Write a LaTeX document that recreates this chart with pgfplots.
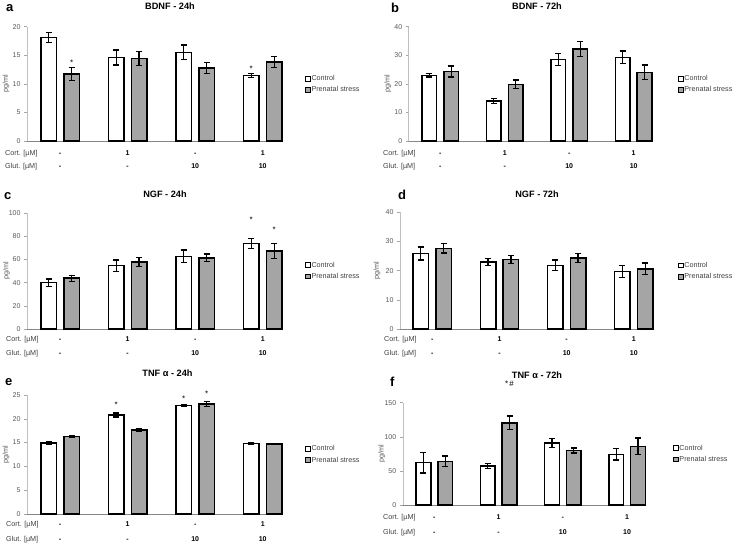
\documentclass[border=0pt]{standalone}
\usepackage{pgfplots}
\pgfplotsset{compat=1.18}
\usepackage{pgfplotstable}
\usepackage{fontspec}
\setmainfont{Liberation Sans}

\definecolor{psgray}{RGB}{165,165,165}
\definecolor{axgray}{RGB}{134,134,134}
\definecolor{tickgray}{RGB}{89,89,89}
\definecolor{labgray}{RGB}{64,64,64}
\newcommand{\fs}[1]{\fontsize{#1}{#1}\selectfont}

\pgfplotstableread{
x c ce p pe
0 18.1 0.85 11.7 1.1
1 14.6 1.3 14.45 1.2
2 15.5 1.3 12.8 0.95
3 11.5 0.35 13.8 1.0
}\tabA
\pgfplotstableread{
x c ce p pe
0 23.0 0.6 24.3 1.9
1 14.0 0.9 19.8 1.5
2 28.5 2.1 32.2 2.7
3 29.3 2.2 24.0 2.6
}\tabB
\pgfplotstableread{
x c ce p pe
0 40.0 3.2 43.9 2.6
1 54.7 5.0 57.8 3.9
2 62.8 5.5 61.5 3.3
3 74.0 4.3 67.5 6.5
}\tabC
\pgfplotstableread{
x c ce p pe
0 25.9 2.2 27.6 1.6
1 22.9 1.25 23.8 1.3
2 21.8 1.8 24.3 1.6
3 19.7 2.0 20.6 2.0
}\tabD
\pgfplotstableread{
x c ce p pe
0 14.9 0.2 16.25 0.2
1 20.8 0.4 17.6 0.3
2 22.8 0.25 23.1 0.55
3 14.8 0.1 14.7 0.05
}\tabE
\pgfplotstableread{
x c ce p pe
0 62 15 64 7.8
1 57 3.7 120.5 9.8
2 91 6.4 80 3.7
3 74.3 8.3 86 12.2
}\tabF

\pgfplotsset{
  panel/.style={
    scale only axis, anchor=south west, clip=false,
    xmin=-0.49, xmax=3.3, ymin=0,
    axis lines=left, axis line style={-},
    x axis line style={axgray, line width=0.9pt},
    y axis line style={black!25, line width=0.5pt},
    xtick=\empty,
    ytick style={black!35, line width=0.5pt},
    tick align=outside, major tick length=3pt,
    /pgf/number format/assume math mode=true,
    yticklabel style={font=\fs{7}, text=tickgray},
    ylabel={pg/ml},
    ylabel style={font=\fs{7.2}, text=tickgray},
    legend style={draw=none, fill=none, inner sep=0pt, row sep=3.3pt,
      font=\fs{7.2}, text=labgray, anchor=west,
      nodes={inner sep=0.6pt, text height=5.2pt, text depth=1.5pt}},
    legend cell align=left,
  },
  barstyle/.style={ybar, bar width=0.23, bar shift=0pt, draw=black, line width=1.5pt,
    error bars/.cd, y dir=both, y explicit,
    error bar style={line width=1.3pt,black},
    error mark options={rotate=90,mark size=3pt,line width=1.3pt,black}},
}
\tikzset{
  val/.style={font=\fs{7}\bfseries, anchor=base, inner sep=0pt},
  lab/.style={font=\fs{7.2}, text=labgray, anchor=base west, inner sep=0pt},
  star/.style={font=\fs{8}, anchor=base, inner sep=0pt},
}

\newcommand{\bars}[1]{%
  \addplot[fill=white,
    legend image code/.code={\draw[fill=white,draw=black,line width=0.9pt] (0pt,-2.4pt) rectangle (4.8pt,2.4pt);},
    barstyle]
    table[x expr=\thisrow{x}-0.17,y=c,y error=ce]{#1};
  \addplot[fill=psgray,
    legend image code/.code={\draw[fill=psgray,draw=black,line width=0.9pt] (0pt,-2.4pt) rectangle (4.8pt,2.4pt);},
    barstyle]
    table[x expr=\thisrow{x}+0.17,y=p,y error=pe]{#1};
  \legend{Control,Prenatal stress}
}

\newcommand{\rows}[3]{%
  \node[val,yshift=-#1pt] at (axis cs:0,0) {-};
  \node[val,yshift=-#1pt] at (axis cs:1,0) {1};
  \node[val,yshift=-#1pt] at (axis cs:2,0) {-};
  \node[val,yshift=-#1pt] at (axis cs:3,0) {1};
  \node[val,yshift=-#2pt] at (axis cs:0,0) {-};
  \node[val,yshift=-#2pt] at (axis cs:1,0) {-};
  \node[val,yshift=-#2pt] at (axis cs:2,0) {10};
  \node[val,yshift=-#2pt] at (axis cs:3,0) {10};
  \node[lab,xshift=#3pt,yshift=-#1pt] at (rel axis cs:0,0) {Cort. [µM]};
  \node[lab,xshift=#3pt,yshift=-#2pt] at (rel axis cs:0,0) {Glut. [µM]};
}

\begin{document}
\begin{tikzpicture}
\path[use as bounding box] (0pt,0pt) rectangle (738pt,543pt);

% titles and panel letters
\node[font=\fs{9.2}\bfseries, anchor=base] at (170pt,533.7pt) {BDNF - 24h};
\node[font=\fs{9.2}\bfseries, anchor=base] at (537pt,533.2pt) {BDNF - 72h};
\node[font=\fs{9.2}\bfseries, anchor=base] at (165pt,345.7pt) {NGF - 24h};
\node[font=\fs{9.2}\bfseries, anchor=base] at (537pt,345.7pt) {NGF - 72h};
\node[font=\fs{9.2}\bfseries, anchor=base] at (167.5pt,166.3pt) {TNF α - 24h};
\node[font=\fs{9.2}\bfseries, anchor=base] at (537pt,164.7pt) {TNF α - 72h};
\node[font=\fs{13}\bfseries, anchor=base west, inner sep=0pt] at (6pt,531pt) {a};
\node[font=\fs{13}\bfseries, anchor=base west, inner sep=0pt] at (391pt,530.3pt) {b};
\node[font=\fs{13}\bfseries, anchor=base west, inner sep=0pt] at (4pt,343.7pt) {c};
\node[font=\fs{13}\bfseries, anchor=base west, inner sep=0pt] at (398pt,343pt) {d};
\node[font=\fs{13}\bfseries, anchor=base west, inner sep=0pt] at (5pt,157pt) {e};
\node[font=\fs{13}\bfseries, anchor=base west, inner sep=0pt] at (390pt,156pt) {f};

% a
\begin{axis}[panel, at={(27pt,402pt)}, width=256pt, height=114.3pt,
  ymax=20, ytick={0,5,10,15,20},
  ylabel style={at={(axis description cs:-0.082,0.5)}, anchor=center},
  legend style={at={(axis description cs:1.086,0.494)}}]
\bars{\tabA}
\rows{15}{27.4}{-22}
\node[star] at (axis cs:0.17,13.25) {*};
\node[star] at (axis cs:2.83,12.2) {*};
\end{axis}

% b
\begin{axis}[panel, at={(408.7pt,402pt)}, width=244.3pt, height=114.3pt,
  ymax=40, ytick={0,10,20,30,40},
  ylabel style={at={(axis description cs:-0.086,0.5)}, anchor=center},
  legend style={at={(axis description cs:1.102,0.494)}}]
\bars{\tabB}
\rows{15}{27.4}{-25.7}
\end{axis}

% c
\begin{axis}[panel, at={(27pt,214pt)}, width=256pt, height=115.7pt,
  ymax=100, ytick={0,20,40,60,80,100},
  ylabel style={at={(axis description cs:-0.080,0.5)}, anchor=center},
  legend style={at={(axis description cs:1.086,0.503)}}]
\bars{\tabC}
\rows{13}{26.4}{-21}
\node[star] at (axis cs:2.83,92.2) {*};
\node[star] at (axis cs:3.17,83.6) {*};
\end{axis}

% d
\begin{axis}[panel, at={(400pt,214pt)}, width=254pt, height=116.7pt,
  xmin=-0.48, xmax=3.3,
  ymax=40, ytick={0,10,20,30,40},
  ylabel style={at={(axis description cs:-0.091,0.5)}, anchor=center},
  legend style={at={(axis description cs:1.094,0.497)}}]
\bars{\tabD}
\rows{13}{26.4}{-16}
\end{axis}

% e
\begin{axis}[panel, at={(27pt,29pt)}, width=256pt, height=119pt,
  ymax=25, ytick={0,5,10,15,20,25},
  ylabel style={at={(axis description cs:-0.082,0.5)}, anchor=center},
  legend style={at={(axis description cs:1.086,0.498)}}]
\bars{\tabE}
\rows{12.7}{27.7}{-21}
\node[star] at (axis cs:0.83,22.4) {*};
\node[star] at (axis cs:1.83,23.55) {*};
\node[star] at (axis cs:2.17,24.7) {*};
\end{axis}

% f
\begin{axis}[panel, at={(402.8pt,38pt)}, width=243.6pt, height=102.3pt,
  ymax=150, ytick={0,50,100,150},
  ylabel style={at={(axis description cs:-0.086,0.5)}, anchor=center},
  legend style={at={(axis description cs:1.109,0.50)}}]
\bars{\tabF}
\rows{14.4}{29.4}{-19.8}
\node[star] at (axis cs:1.17,173.5) {*\,\#};
\end{axis}
\end{tikzpicture}
\end{document}
